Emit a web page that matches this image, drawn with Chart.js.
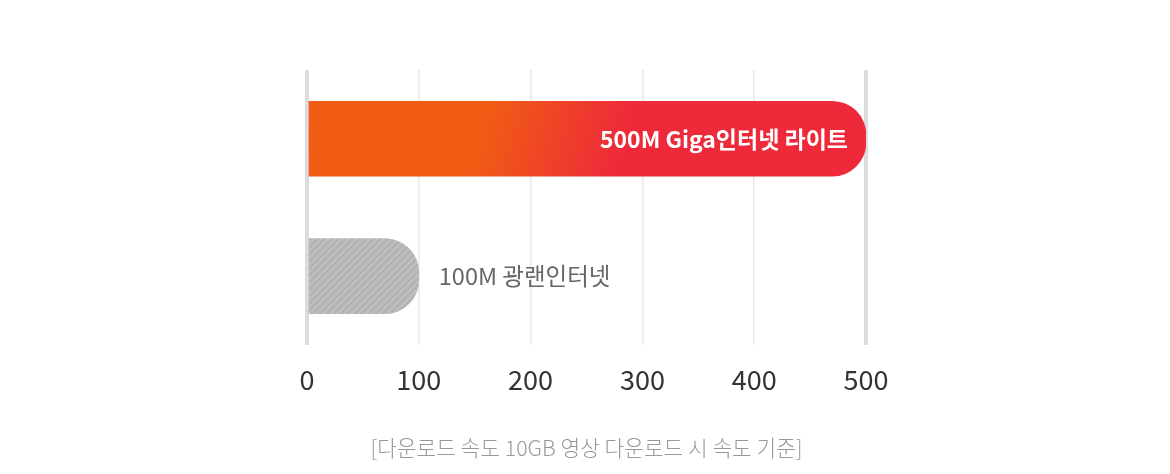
<!DOCTYPE html>
<html><head><meta charset="utf-8">
<script src="https://cdn.jsdelivr.net/npm/chart.js@4.4.1/dist/chart.umd.min.js"></script>
<style>html,body{margin:0;padding:0;background:#fff;}#wrap{width:1170px;height:474px;}</style>
</head><body><div id="wrap"><canvas id="c" width="1170" height="474"></canvas></div>
<script>
const categories = ['500M Giga인터넷 라이트', '100M 광랜인터넷'];
const speeds = [500, 100];
const tickValues = [0, 100, 200, 300, 400, 500];
const footnote = '[다운로드 속도 10GB 영상 다운로드 시 속도 기준]';
const FONT = '"Noto Sans CJK KR", "Noto Sans", sans-serif';

function hatch() {
  const p = document.createElement('canvas');
  p.width = 7; p.height = 7;
  const g = p.getContext('2d');
  g.fillStyle = '#b4b4b4'; g.fillRect(0,0,7,7);
  g.strokeStyle = '#c8c8c8'; g.lineWidth = 1.2;
  g.beginPath();
  g.moveTo(0,7); g.lineTo(7,0);
  g.moveTo(-2,2); g.lineTo(2,-2);
  g.moveTo(5,9); g.lineTo(9,5);
  g.stroke();
  return g.createPattern(p, 'repeat');
}
const hatchPattern = hatch();

function barColor(ctx) {
  if (ctx.dataIndex === 1) return hatchPattern;
  const area = ctx.chart.chartArea;
  if (!area) return '#f05a14';
  const g = ctx.chart.ctx.createLinearGradient(area.left, area.top, area.right, area.top + 150);
  g.addColorStop(0, '#f05c14');
  g.addColorStop(0.32, '#f05c14');
  g.addColorStop(0.56, '#ee2a3a');
  g.addColorStop(1, '#ee2a3a');
  return g;
}

const labelPlugin = {
  id: 'barLabels',
  afterDatasetsDraw(chart) {
    const ctx = chart.ctx;
    const meta = chart.getDatasetMeta(0);
    meta.data.forEach((bar, i) => {
      ctx.save();
      ctx.textBaseline = 'middle';
      if (i === 0) {
        ctx.font = 'bold 23px ' + FONT;
        ctx.fillStyle = '#ffffff';
        ctx.textAlign = 'right';
        ctx.fillText(categories[i], bar.x - 18, bar.y + 1);
      } else {
        ctx.font = '23.5px ' + FONT;
        ctx.fillStyle = '#666666';
        ctx.textAlign = 'left';
        ctx.fillText(categories[i], bar.x + 20, bar.y);
      }
      ctx.restore();
    });
  }
};

new Chart(document.getElementById('c'), {
  type: 'bar',
  data: {
    labels: categories,
    datasets: [{
      data: speeds,
      backgroundColor: barColor,
      barThickness: 75,
      borderRadius: {topRight: 34, bottomRight: 34, topLeft: 0, bottomLeft: 0},
      borderSkipped: false
    }]
  },
  options: {
    indexAxis: 'y',
    responsive: false,
    animation: false,
    devicePixelRatio: 1,
    layout: {padding: {left: 307, right: 304, top: 70, bottom: 0}},
    plugins: {
      legend: {display: false},
      tooltip: {enabled: false},
      title: {
        display: true,
        position: 'bottom',
        text: footnote,
        color: '#999999',
        font: {family: FONT, size: 21.4, weight: '300'},
        padding: {top: 20, bottom: 13}
      }
    },
    scales: {
      x: {
        min: 0, max: 500,
        afterBuildTicks(scale) { scale.ticks = tickValues.map(v => ({value: v})); },
        border: {display: false},
        grid: {
          drawTicks: false,
          color: (c) => (c.tick && (c.tick.value === 0 || c.tick.value === 500)) ? '#dcdcdc' : '#e8e8e8',
          lineWidth: (c) => (c.tick && (c.tick.value === 0 || c.tick.value === 500)) ? 4 : 1.5
        },
        ticks: {
          color: '#333333',
          padding: 19,
          font: {family: FONT, size: 27},
          maxRotation: 0
        }
      },
      y: {
        display: false
      }
    }
  },
  plugins: [labelPlugin]
});
</script>
</body></html>
